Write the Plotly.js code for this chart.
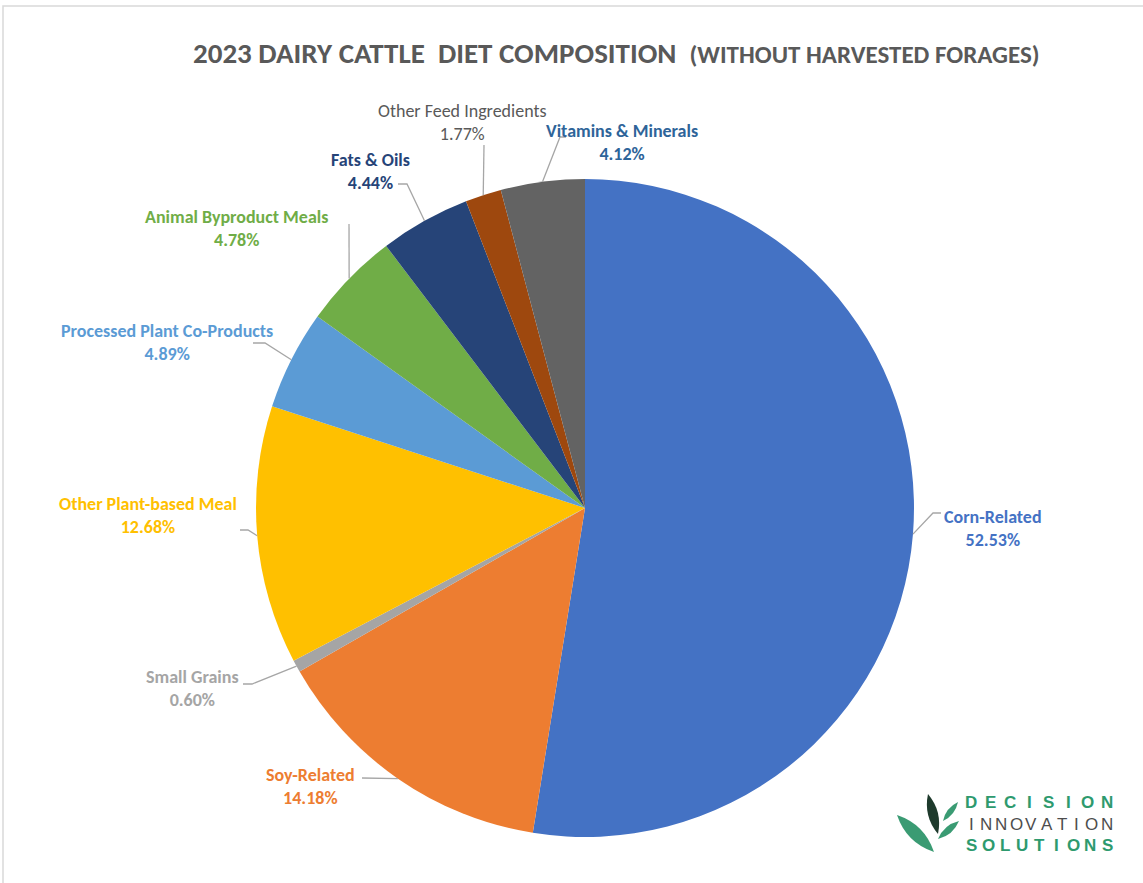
<!DOCTYPE html>
<html><head><meta charset="utf-8">
<script src="https://cdn.plot.ly/plotly-3.0.1.min.js"></script>
<style>html,body{margin:0;padding:0;background:#fff;}#chart{width:1143px;height:883px;}</style>
</head><body><div id="chart"></div>
<script>
// ---- data ----
const categories = ["Corn-Related","Soy-Related","Small Grains","Other Plant-based Meal","Processed Plant Co-Products","Animal Byproduct Meals","Fats & Oils","Other Feed Ingredients","Vitamins & Minerals"];
const shares = [52.53,14.18,0.60,12.68,4.89,4.78,4.44,1.77,4.12];
const sliceColors = ["#4472C4","#ED7D31","#A5A5A5","#FFC000","#5B9BD5","#70AD47","#264478","#9E480E","#636363"];
const labelColors = ["#4472C4","#ED7D31","#A5A5A5","#FFC000","#5B9BD5","#70AD47","#264478","#595959","#2E6499"];

// ---- layout helpers (pixel positions) ----
const W = 1143, H = 883;
const CX = 585, CY = 508, R = 329;
const labelPos = [[993,528],[311,786],[192,688],[148,515],[167,343],[236,229],[371,171],[462,122],[622,142]];
const leaderEnd = [[[941,513],[933,513]],[[362,778],[362,778]],[[243,684],[252,684]],[[240,530],[248,530]],[[253,343],[265,343]],[[349,224],[349,224]],[[398,184],[407,184]],[[484,145],[484,145]],[[566,137],[560,137]]];
const px = x => x / W, py = y => 1 - y / H;
const FONT = 'Carlito, Calibri, Lato, Arial, sans-serif';

const total = shares.reduce((a,b)=>a+b,0);
const annotations = [], shapes = [];
let cum = 0;
shares.forEach((v,i)=>{
  const mid = (cum + v/2) / total; cum += v;
  const th = 2*Math.PI*mid;
  const ex = CX + R*Math.sin(th), ey = CY - R*Math.cos(th);
  const [a,b] = leaderEnd[i];
  shapes.push({type:'path', xref:'paper', yref:'paper',
    path:`M ${px(a[0])} ${py(a[1])} L ${px(b[0])} ${py(b[1])} L ${px(ex)} ${py(ey)}`,
    line:{color:'#A6A6A6', width:1.3}});
  const bold = i !== 7;
  const t = categories[i] + '<br>' + v.toFixed(2) + '%';
  annotations.push({xref:'paper', yref:'paper', x:px(labelPos[i][0]), y:py(labelPos[i][1]),
    xanchor:'center', yanchor:'middle', showarrow:false, align:'center',
    text: bold ? '<b>'+t+'</b>' : t,
    font:{family:FONT, size:18, color:labelColors[i]}});
});

// title
annotations.push({xref:'paper', yref:'paper', x:px(616), y:py(53), xanchor:'center', yanchor:'middle', showarrow:false,
  text:"<b>2023 DAIRY CATTLE  DIET COMPOSITION</b>  <b><span style='font-size:25px'>(WITHOUT HARVESTED FORAGES)</span></b>",
  font:{family:FONT, size:29, color:'#595959'}});

// logo text
const logoWords = [["DECISION",802,'#2E9A6E',true],["INNOVATION",824,'#4D4D4D',false],["SOLUTIONS",845,'#2E9A6E',true]];
logoWords.forEach(([w,y,c,b])=>{
  const x0 = 971, x1 = 1107, n = w.length;
  for (let k=0;k<n;k++){
    const x = x0 + (x1-x0)*k/(n-1);
    annotations.push({xref:'paper', yref:'paper', x:px(x), y:py(y), xanchor:'center', yanchor:'middle', showarrow:false,
      text: b ? '<b>'+w[k]+'</b>' : w[k], font:{family:'Arial, Liberation Sans, sans-serif', size:17, color:c}});
  }
});
// logo leaves
function leaf(p1,p2,w,color){
  const mx=(p1[0]+p2[0])/2, my=(p1[1]+p2[1])/2;
  const dx=p2[0]-p1[0], dy=p2[1]-p1[1], L=Math.hypot(dx,dy);
  const nx=-dy/L*w, ny=dx/L*w;
  shapes.push({type:'path', xref:'paper', yref:'paper',
    path:`M ${px(p1[0])} ${py(p1[1])} Q ${px(mx+nx)} ${py(my+ny)} ${px(p2[0])} ${py(p2[1])} Q ${px(mx-nx)} ${py(my-ny)} ${px(p1[0])} ${py(p1[1])} Z`,
    fillcolor:color, line:{width:0}});
}
leaf([897,815],[934,852],13,'#3A9B73');
leaf([928,794],[938,834],10,'#1E3A2C');
leaf([958,802],[943,821],6,'#3A9B73');
leaf([959,821],[938,839],7,'#3A9B73');

// border
shapes.push({type:'rect', xref:'paper', yref:'paper', x0:px(3), x1:1.02, y0:-0.02, y1:py(6), line:{color:'#D9D9D9', width:1.5}, fillcolor:'rgba(0,0,0,0)'});

const trace = {type:'pie', labels:categories, values:shares, sort:false, direction:'clockwise', rotation:0,
  marker:{colors:sliceColors, line:{width:0}}, textinfo:'none', hoverinfo:'label+percent',
  domain:{x:[px(CX-R), px(CX+R)], y:[py(CY+R), py(CY-R)]}};

Plotly.newPlot('chart',[trace],{width:W, height:H, margin:{l:0,r:0,t:0,b:0}, showlegend:false,
  paper_bgcolor:'#fff', annotations:annotations, shapes:shapes},{displayModeBar:false, staticPlot:true});
</script></body></html>
